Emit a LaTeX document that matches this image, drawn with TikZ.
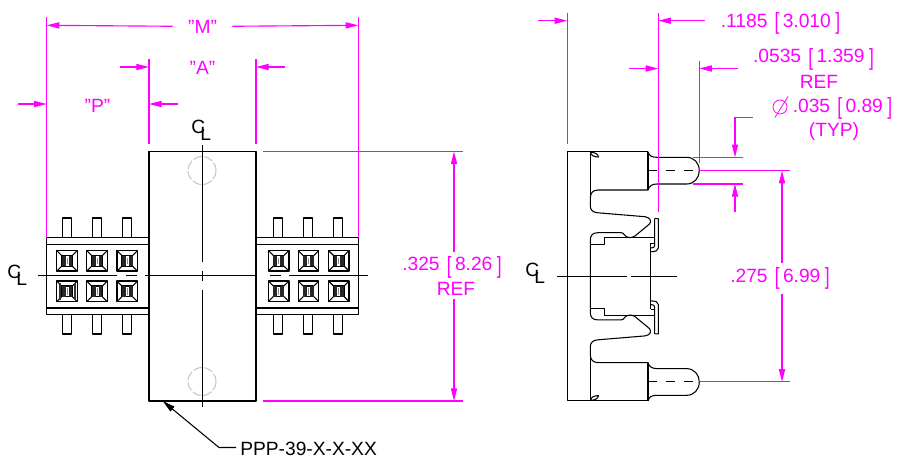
\documentclass[tikz,border=0pt]{standalone}
\usepackage{fontspec}
\setmainfont{Liberation Sans}
\usetikzlibrary{arrows.meta}
\definecolor{ffqqff}{rgb}{1,0,1}
\definecolor{cqcqcq}{rgb}{0.78,0.78,0.78}
\newcommand{\tallbrk}[1]{\raisebox{-1.9pt}{\scalebox{0.9}[1.22]{#1}}}
\newcommand{\dimtxt}[2]{#1\hspace{5.4pt}\tallbrk{[}\hspace{2.5pt}#2\hspace{3.4pt}\tallbrk{]}}
% half of the side view, the other half is the same thing flipped
\newcommand{\halfprofile}{
\draw [body] (567.3,276.3) -- (567.3,151.7) -- (648,151.7);
\draw [body] (648,151.7) .. controls (649,156) and (652,157.3) .. (657,157.3) -- (686.7,157.3) .. controls (694,157.3) and (699.3,163) .. (699.3,170.7) .. controls (699.3,178) and (694,184) .. (686.7,184) -- (657,184) .. controls (652,184) and (649,186) .. (648,190) -- (598,190) .. controls (593,190) and (590.3,193) .. (590.3,198) -- (590.3,206) .. controls (590.3,210) and (593,212.5) .. (598,212.8) -- (645,216.7) .. controls (650,217.5) and (652,221) .. (649.5,224) -- (635,236) .. controls (631,238.5) and (627,238) .. (624.5,235) .. controls (623.5,233.5) and (623,232.7) .. (621,232.7) -- (598,232.7) .. controls (593,232.7) and (590.3,235) .. (590.3,240) -- (590.3,276.3);
\draw [body] (590.3,151.7) -- (590.3,198);
\draw [body] (648,151.7) -- (648,190);
\draw [body] (590.3,244.3) -- (604.3,244.3) -- (604.3,237.3) -- (654.7,237.3);
\draw [body] (590.5,152.3) .. controls (595,152.3) and (598,154) .. (598.5,157) .. controls (594,157) and (591,155.5) .. (590.5,152.3);
\draw [body] (654.7,218.7) -- (658.3,218.7) -- (658.3,248) .. controls (658.3,250.5) and (656,251.7) .. (650.7,251.7);
\draw [body] (654.7,218.7) -- (654.7,245.5) .. controls (654.7,247.5) and (653,248) .. (650.7,248);
\draw [body] (650.7,243.3) -- (654.7,243.3);
\draw [body] (650.7,243.3) -- (650.7,276.3);
\draw [body,dash pattern=on 7pt off 6.5pt] (648,170.7) -- (693,170.7);
}
\tikzset{
body/.style={line width=0.8pt,color=black,line join=round},
center/.style={line width=0.75pt,color=black},
dimline/.style={line width=0.85pt,color=ffqqff},
dimarrow/.style={dimline,-{Triangle[length=9.5pt,width=4.6pt]}},
dimtext/.style={color=ffqqff,font=\fontsize{14.4}{17}\selectfont,inner sep=0pt},
blacktext/.style={color=black,font=\fontsize{14.4}{17}\selectfont,inner sep=0pt},
}
\begin{document}
\begin{tikzpicture}[x=0.75pt,y=-0.75pt]
\useasboundingbox (0,0) rectangle (898,458);
%% front view, connector on both sides of the block
\draw [body] (46.7,237.7) rectangle (149,314.7);
\draw [body] (46.7,244.3) -- (149,244.3);
\draw [body] (46.7,308) -- (149,308);
\draw [body] (256.7,237.7) rectangle (358.3,314.7);
\draw [body] (256.7,244.3) -- (358.3,244.3);
\draw [body] (256.7,308) -- (358.3,308);
\foreach \x in {62.7,92.3,122.3,273.3,303.3,333.7}
{
\draw [body] (\x,237.7) -- (\x,218) -- (\x+9,218) -- (\x+9,237.7);
\draw [body] (\x,314.7) -- (\x,334) -- (\x+9,334) -- (\x+9,314.7);
}
\foreach \x in {56.7,86.7,117,268.3,298.2,328.5}
\foreach \y in {250.5,281}
{
\begin{scope}[shift={(\x,\y)}]
\draw [body,line width=1pt] (0,0) rectangle (20.6,20.6);
\draw [body] (5,5) rectangle (15.6,15.6);
\draw [body] (0,0) -- (5,5);
\draw [body] (20.6,0) -- (15.6,5);
\draw [body] (0,20.6) -- (5,15.6);
\draw [body] (20.6,20.6) -- (15.6,15.6);
\fill [black!85] (5,5) rectangle (8.8,15.6);
\fill [black!85] (11.8,5) rectangle (15.6,15.6);
\draw [line width=0.5pt,black!45] (10.3,7) -- (10.3,13.6);
\end{scope}
}
% the one pocket that prints darker
\fill [black!80] (58.5,283) rectangle (60.5,299.8);
\fill [black!80] (73.5,283) rectangle (75.5,299.8);
\foreach \x in {147.6,255.8}
\foreach \y in {250,281}
\fill [black!80] (\x,\y) rectangle (\x+1.6,\y+20.5);
\fill [white] (149,151.5) rectangle (256,401);
\draw [body] (149,151.5) rectangle (256,401);
\draw [cqcqcq,line width=0.8pt,dash pattern=on 7pt off 1.5pt] (202,170.5) circle (14);
\draw [cqcqcq,line width=0.8pt,dash pattern=on 7pt off 1.5pt] (202,381.5) circle (14);
%% center lines
\draw [center] (202,145) -- (202,262);
\draw [center] (202,271) -- (202,281);
\draw [center] (202,290) -- (202,407);
\draw [center] (38,275.5) -- (117,275.5);
\draw [center] (126,275.5) -- (137,275.5);
\draw [center] (145,275.5) -- (257,275.5);
\draw [center] (270,275.5) -- (280.7,275.5);
\draw [center] (289,275.5) -- (368,275.5);
\draw [center] (556.7,276.3) -- (626.7,276.3);
\draw [center] (631,276.3) -- (677,276.3);
\foreach \cx/\cy/\cname in {191/120/top,7/265/left,525/263/right}
{
\node [blacktext,anchor=north west] (c\cname) at (\cx,\cy) {C};
\node [blacktext,anchor=north west] (l\cname) at (\cx+9,\cy+7.5) {L};
}
%% side view
\halfprofile
\begin{scope}[shift={(0,552.6)},yscale=-1]
\halfprofile
\end{scope}
%% extension lines
\draw [dimline] (46.7,17) -- (46.7,237.7);
\draw [dimline] (358.3,17) -- (358.3,237.7);
\draw [dimline] (149,59) -- (149,144);
\draw [dimline] (256,59) -- (256,144);
\draw [dimline] (263,151.5) -- (463,151.5);
\draw [dimline] (263,401) -- (463,401);
\draw [dimline] (567.3,13) -- (567.3,144);
\draw [dimline] (658.3,13) -- (658.3,212);
\draw [dimline] (699.3,60.7) -- (699.3,163);
\draw [dimline] (693,157.3) -- (743,157.3);
\draw [dimline] (693,184) -- (743,184);
\draw [dimline] (699.3,170.7) -- (790,170.7);
\draw [dimline] (699.3,381.9) -- (790,381.9);
%% dimension labels
\node [dimtext,inner xsep=11.5pt] (m) at (202.5,26.5) {"M"};
\node [dimtext] (a) at (202.5,67.5) {"A"};
\node [dimtext] (p) at (97.5,106) {"P"};
\node [dimtext,inner ysep=3pt] (d325) at (452,267) {\dimtxt{.325}{8.26}};
\node [dimtext] (r325) at (456,288.5) {REF};
\node [dimtext,inner ysep=3pt] (d275) at (780,278.5) {\dimtxt{.275}{6.99}};
\node [dimtext] (d1185) at (780.5,23.5) {\dimtxt{.1185}{3.010}};
\node [dimtext] (d0535) at (813.5,59) {\dimtxt{.0535}{1.359}};
\node [dimtext] (r0535) at (819,82) {REF};
\node [dimtext] (d035) at (842.5,108.5) {\dimtxt{.035}{0.89}};
\node [dimtext] (typ) at (834,131.5) {(TYP)};
\draw [color=ffqqff,line width=0.6pt] (780,107) circle (7);
\draw [color=ffqqff,line width=0.6pt] (775,117.5) -- (788,96.5);
%% dimension arrows
\coordinate (ml) at (46.7,25.3);
\coordinate (mr) at (358.3,25.3);
\draw [dimarrow] (m) -- (ml);
\draw [dimarrow] (m) -- (mr);
\foreach \xa/\xb/\yy in {120/149/67,285/256/67,18/46.7/104,178/149/104,538/567.3/20.7,705/658.3/20.7,629/658.3/68.5,738/699.3/68.5}
\draw [dimarrow] (\xa,\yy) -- (\xb,\yy);
\coordinate (t325) at (454,151.5);
\coordinate (b325) at (454,401);
\coordinate (t275) at (782,170.7);
\coordinate (b275) at (782,381.9);
\draw [dimarrow] (d325.north -| t325) -- (t325);
\draw [dimarrow] (r325.south -| b325) ++(0,4) -- (b325);
\draw [dimarrow] (d275.north -| t275) -- (t275);
\draw [dimarrow] (d275.south -| b275) -- (b275);
\draw [dimarrow] (752.7,117.7) -- (735,117.7) -- (735,157.3);
\draw [dimarrow] (735,212) -- (735,184);
%% part number
\node [blacktext,anchor=west] (ppp) at (240,448.5) {PPP-39-X-X-XX};
\coordinate (tip) at (162.7,401);
\draw [body,-{Triangle[length=9.5pt,width=4.6pt]}] (ppp.west) ++(-4,-1) -- (219,447.5) -- (tip);
\end{tikzpicture}
\end{document}
